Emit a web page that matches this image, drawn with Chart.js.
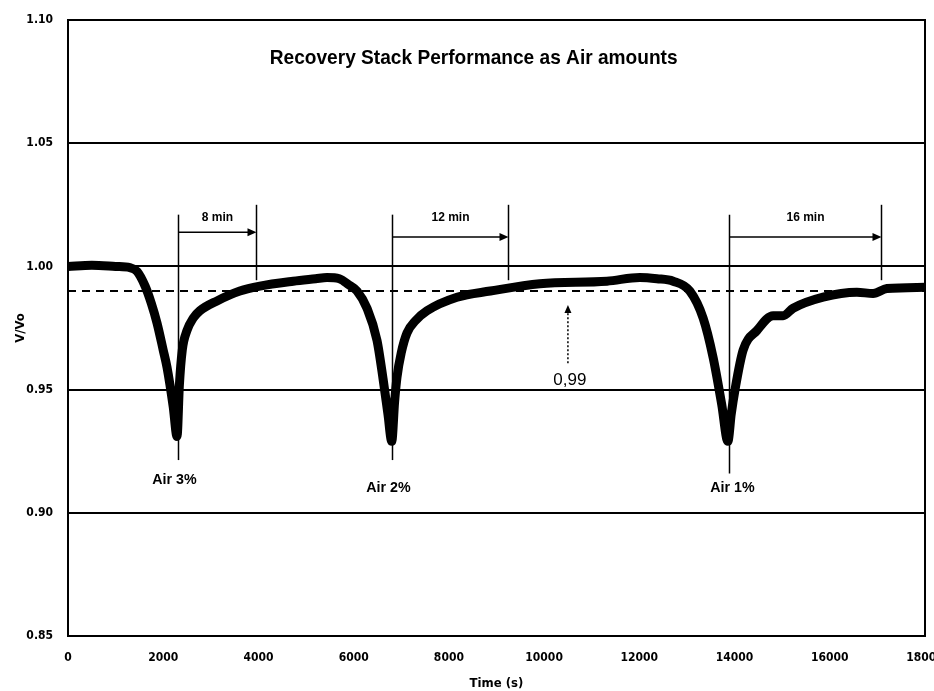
<!DOCTYPE html>
<html>
<head>
<meta charset="utf-8">
<title>Recovery Stack Performance as Air amounts</title>
<script src="https://cdn.jsdelivr.net/npm/chart.js@4/dist/chart.umd.min.js"></script>
<style>
  html, body { margin: 0; padding: 0; background: #fff; }
  #wrap { width: 934px; height: 691px; }
</style>
</head>
<body>
<div id="wrap"><canvas id="stackChart" width="934" height="691"></canvas></div>
<script>
// time (s) and V/Vo
const timeS = [0, 500, 1000, 1300, 1450, 1620, 1750, 1870, 2000, 2080, 2210, 2290,
  2340, 2400, 2500, 2630, 2770, 3130, 3610, 4030, 4730, 5200, 5440, 5700, 5900,
  6070, 6280, 6490, 6620, 6720, 6800, 6860, 6910, 7000, 7120, 7300, 7540, 8170,
  8870, 9910, 11320, 12010, 12370, 12710, 13060, 13340, 13550, 13730, 13860,
  13930, 14010, 14180, 14470, 14810, 15020, 15230, 15860, 16570, 16910, 17200, 18000];
const vRatio = [1.000, 1.0005, 1.000, 0.9995, 0.998, 0.992, 0.985, 0.977, 0.966, 0.959, 0.943, 0.931,
  0.952, 0.966, 0.974, 0.979, 0.982, 0.986, 0.990, 0.992, 0.994, 0.995, 0.9955, 0.995, 0.9925,
  0.990, 0.983, 0.970, 0.954, 0.940, 0.929, 0.945, 0.955, 0.965, 0.973, 0.978, 0.982, 0.9875,
  0.990, 0.993, 0.994, 0.9955, 0.995, 0.994, 0.990, 0.979, 0.963, 0.944, 0.929,
  0.940, 0.950, 0.966, 0.974, 0.980, 0.980, 0.983, 0.9875, 0.9895, 0.989, 0.991, 0.9915];

const threshold = 0.99;
const xTicks = [0, 2000, 4000, 6000, 8000, 10000, 12000, 14000, 16000, 18000];
const yTicks = [0.85, 0.90, 0.95, 1.00, 1.05, 1.10];

// annotations (data units)
const airTimes = [2310, 6800, 13880];
const airLabels = ['Air 3%', 'Air 2%', 'Air 1%'];
const recoverTimes = [3950, 9240, 17070];
const recoverLabels = ['8 min', '12 min', '16 min'];

const NARROW = '"DejaVu Sans Condensed", "Liberation Sans Narrow", "Liberation Sans", Arial, sans-serif';
const SANS = '"Liberation Sans", Arial, sans-serif';

function arrowHead(ctx, x, y, dir) {
  // dir: 'right' or 'up'
  ctx.beginPath();
  if (dir === 'right') {
    ctx.moveTo(x, y);
    ctx.lineTo(x - 9, y - 4);
    ctx.lineTo(x - 9, y + 4);
  } else {
    ctx.moveTo(x, y);
    ctx.lineTo(x - 3.5, y + 8);
    ctx.lineTo(x + 3.5, y + 8);
  }
  ctx.closePath();
  ctx.fill();
}

// condensed text drawn by squeezing horizontally
function narrowText(ctx, text, cx, cy, squeeze) {
  ctx.save();
  ctx.translate(cx, cy);
  ctx.scale(squeeze, 1);
  ctx.fillText(text, 0, 0);
  ctx.restore();
}

const annotations = {
  id: 'annotations',
  afterDatasetsDraw(chart) {
    const { ctx, chartArea: a, scales: { x, y } } = chart;
    ctx.save();
    ctx.strokeStyle = '#000';
    ctx.fillStyle = '#000';

    // frame around the plot
    ctx.lineWidth = 2;
    ctx.strokeRect(a.left, a.top, a.right - a.left, a.bottom - a.top);

    // title sits inside the plot
    ctx.font = 'bold 21px ' + SANS;
    ctx.textAlign = 'center';
    ctx.textBaseline = 'middle';
    narrowText(ctx, 'Recovery Stack Performance as Air amounts', x.getPixelForValue(8520), y.getPixelForValue(1.0846), 0.91);

    ctx.lineWidth = 1.5;
    airTimes.forEach((t, i) => {
      const xa = Math.round(x.getPixelForValue(t)) + 0.5;
      const xr = Math.round(x.getPixelForValue(recoverTimes[i])) + 0.5;
      const bottom = i === 2 ? 0.916 : 0.9214;
      // injection marker
      ctx.beginPath();
      ctx.moveTo(xa, y.getPixelForValue(1.021));
      ctx.lineTo(xa, y.getPixelForValue(bottom));
      ctx.stroke();
      // recovery marker
      ctx.beginPath();
      ctx.moveTo(xr, y.getPixelForValue(1.025));
      ctx.lineTo(xr, y.getPixelForValue(0.9944));
      ctx.stroke();
      // arrow between them
      const ya = y.getPixelForValue(i === 0 ? 1.0139 : 1.0119);
      ctx.beginPath();
      ctx.moveTo(xa, ya);
      ctx.lineTo(xr - 4, ya);
      ctx.stroke();
      arrowHead(ctx, xr, ya, 'right');
      // labels
      ctx.font = 'bold 12px ' + SANS;
      narrowText(ctx, recoverLabels[i], (xa + xr) / 2, y.getPixelForValue(1.0196), 1);
      ctx.font = 'bold 15px ' + SANS;
      narrowText(ctx, airLabels[i], xa - (i === 2 ? -3 : 4), y.getPixelForValue(i === 0 ? 0.9133 : 0.910), 0.95);
    });

    // 0,99 pointer
    const xp = x.getPixelForValue(10500);
    ctx.setLineDash([2, 2]);
    ctx.lineWidth = 1.5;
    ctx.beginPath();
    ctx.moveTo(xp, y.getPixelForValue(0.9607));
    ctx.lineTo(xp, y.getPixelForValue(0.9843) + 6);
    ctx.stroke();
    ctx.setLineDash([]);
    arrowHead(ctx, xp, y.getPixelForValue(0.9843), 'up');
    ctx.font = '17px ' + SANS;
    ctx.fillText('0,99', x.getPixelForValue(10540), y.getPixelForValue(0.9538));
    ctx.restore();
  }
};

new Chart(document.getElementById('stackChart'), {
  type: 'line',
  data: {
    datasets: [
      {
        label: 'V/Vo',
        data: timeS.map((t, i) => ({ x: t, y: vRatio[i] })),
        borderColor: '#000',
        borderWidth: 9,
        borderCapStyle: 'round',
        borderJoinStyle: 'round',
        cubicInterpolationMode: 'monotone',
        pointRadius: 0,
        fill: false
      },
      {
        label: '0.99',
        data: [{ x: 0, y: threshold }, { x: 18000, y: threshold }],
        borderColor: '#000',
        borderWidth: 2,
        borderDash: [8, 6],
        pointRadius: 0,
        fill: false
      }
    ]
  },
  options: {
    responsive: false,
    animation: false,
    layout: { padding: { left: 0, top: 20, right: 9, bottom: 0 } },
    plugins: {
      legend: { display: false },
      tooltip: { enabled: false }
    },
    scales: {
      x: {
        type: 'linear',
        min: 0,
        max: 18000,
        afterFit: s => { s.height = 55; s.paddingLeft = 0; s.paddingRight = 0; },
        afterBuildTicks: s => { s.ticks = xTicks.map(v => ({ value: v })); },
        grid: { display: false, drawTicks: false },
        border: { display: true, color: '#000', width: 2 },
        ticks: {
          padding: 15,
          color: '#000',
          font: { family: NARROW, size: 12, weight: 'bold' },
          maxRotation: 0,
          callback: v => String(v)
        },
        title: {
          display: true,
          text: 'Time (s)',
          color: '#000',
          font: { family: NARROW, size: 13, weight: 'bold' },
          padding: { top: 2, bottom: 0 }
        }
      },
      y: {
        min: 0.85,
        max: 1.10,
        afterFit: s => { s.width = 68; s.paddingTop = 0; s.paddingBottom = 0; },
        afterBuildTicks: s => { s.ticks = yTicks.map(v => ({ value: v })); },
        grid: { color: '#000', lineWidth: 2, drawTicks: false },
        border: { display: true, color: '#000', width: 2 },
        ticks: {
          padding: 15,
          color: '#000',
          font: { family: NARROW, size: 12, weight: 'bold' },
          callback: v => v.toFixed(2)
        },
        title: {
          display: true,
          text: 'V/Vo',
          color: '#000',
          font: { family: NARROW, size: 13, weight: 'bold' },
          padding: { top: 13, bottom: 0 }
        }
      }
    }
  },
  plugins: [annotations]
});
</script>
</body>
</html>
